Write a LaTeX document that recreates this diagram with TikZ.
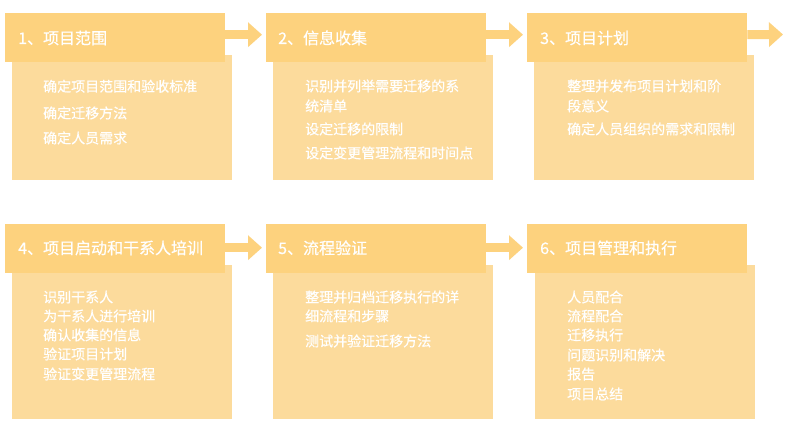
\documentclass[tikz,border=0pt]{standalone}
\usepackage{fontspec}
\setmainfont{Noto Sans CJK SC}
\newfontfamily\cjkmed[FakeBold=0.5]{Noto Sans CJK SC}
\usetikzlibrary{arrows.meta}
\definecolor{hdrc}{HTML}{FDD27E}
\definecolor{bodyc}{HTML}{FCDB9C}
\tikzset{
  hdr/.style={fill=hdrc, draw=none, minimum width=220pt, minimum height=49pt, inner sep=0pt, anchor=north west},
  bodybox/.style={fill=bodyc, draw=none, minimum width=220pt, inner sep=0pt, anchor=north west},
  hdrtxt/.style={text=white, font=\cjkmed\fontsize{16}{19}\selectfont, inner sep=0pt, anchor=base west},
  bodytxt/.style={text=white, font=\cjkmed\fontsize{14}{18}\selectfont, inner sep=0pt, anchor=base west},
  flow/.style={draw=hdrc, line width=9pt, -{Triangle[length=14pt,width=24pt]}}
}
\begin{document}
\begin{tikzpicture}[x=1pt,y=-1pt]
\fill[white] (0,0) rectangle (788,428);
\useasboundingbox (0,0) rectangle (788,428);
% bodies first
\node[bodybox, minimum height=125pt] (b1) at (12,55) {};
\node[bodybox, minimum height=125pt] (b2) at (273,55) {};
\node[bodybox, minimum height=125pt] (b3) at (534,55) {};
\node[bodybox, minimum height=154pt] (b4) at (12,265) {};
\node[bodybox, minimum height=154pt] (b5) at (273,265) {};
\node[bodybox, minimum height=154pt] (b6) at (535,265) {};
% headers
\node[hdr] (h1) at (5,13) {};
\node[hdr] (h2) at (266,13) {};
\node[hdr] (h3) at (527,13) {};
\node[hdr] (h4) at (5,224) {};
\node[hdr] (h5) at (266,224) {};
\node[hdr] (h6) at (527,224) {};
\node[hdrtxt] (t1) at (18,44) {1、项目范围};
\node[hdrtxt] (t2) at (278,44) {2、信息收集};
\node[hdrtxt] (t3) at (540,44) {3、项目计划};
\node[hdrtxt] (t4) at (18,254) {4、项目启动和干系人培训};
\node[hdrtxt] (t5) at (278,254) {5、流程验证};
\node[hdrtxt] (t6) at (540,254) {6、项目管理和执行};
% arrows
\coordinate (end3) at (783,34.5);
\draw[flow] ([yshift=3pt]h1.east) -- ([xshift=-4pt,yshift=3pt]h2.west);
\draw[flow] ([yshift=3pt]h2.east) -- ([xshift=-4pt,yshift=3pt]h3.west);
\draw[flow] ([yshift=3pt]h3.east) -- (end3);
\draw[flow] ([yshift=1pt]h4.east) -- ([xshift=-4pt,yshift=1pt]h5.west);
\draw[flow] ([yshift=1pt]h5.east) -- ([xshift=-4pt,yshift=1pt]h6.west);
% body texts
\foreach \y/\t [count=\i] in {91.6/确定项目范围和验收标准, 118.3/确定迁移方法, 143.3/确定人员需求}
  \node[bodytxt] (l1-\i) at (43,\y) {\t};
\foreach \y/\t [count=\i] in {91.3/识别并列举需要迁移的系, 111.3/统清单, 134.3/设定迁移的限制, 158.3/设定变更管理流程和时间点}
  \node[bodytxt] (l2-\i) at (305,\y) {\t};
\foreach \y/\t [count=\i] in {91.3/整理并发布项目计划和阶, 111.3/段意义, 134.3/确定人员组织的需求和限制}
  \node[bodytxt] (l3-\i) at (567,\y) {\t};
\foreach \y/\t [count=\i] in {302.3/识别干系人, 321.3/为干系人进行培训, 340.3/确认收集的信息, 359.3/验证项目计划, 379.3/验证变更管理流程}
  \node[bodytxt] (l4-\i) at (43,\y) {\t};
\foreach \y/\t [count=\i] in {302.3/整理并归档迁移执行的详, 321.3/细流程和步骤, 346.3/测试并验证迁移方法}
  \node[bodytxt] (l5-\i) at (305,\y) {\t};
\foreach \y/\t [count=\i] in {302.3/人员配合, 321.3/流程配合, 340.3/迁移执行, 360.3/问题识别和解决, 379.3/报告, 399.3/项目总结}
  \node[bodytxt] (l6-\i) at (567,\y) {\t};
\end{tikzpicture}
\end{document}
